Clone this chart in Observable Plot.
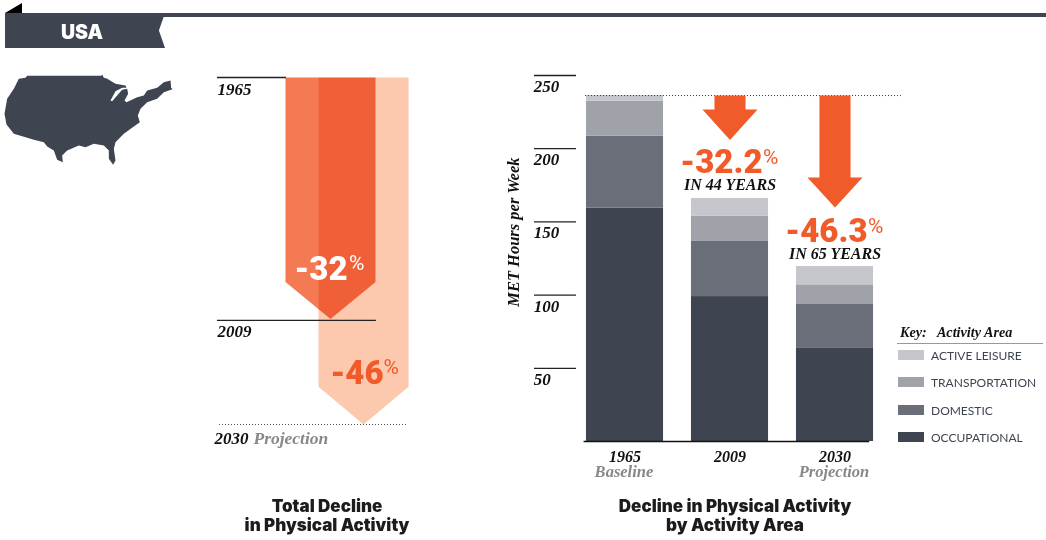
<!DOCTYPE html>
<html>
<head>
<meta charset="utf-8">
<script src="https://cdn.jsdelivr.net/npm/d3@7"></script>
<script src="https://cdn.jsdelivr.net/npm/@observablehq/plot@0.6"></script>
<style>
html,body{margin:0;padding:0;background:#fff;overflow:hidden}
#page{position:relative;width:1046px;height:540px;overflow:hidden}
#page svg{position:absolute;overflow:visible;background:transparent}
.abs{position:absolute}
.title{font-family:Inter,sans-serif;font-weight:900;font-size:17px;line-height:19px;color:#1c1c1c;text-align:center;white-space:nowrap}
.serif{font-family:"Liberation Serif",serif;font-weight:bold;font-style:italic;color:#111;white-space:nowrap}
.key{font-family:Lato,sans-serif;font-size:12px;color:#3f4550;white-space:nowrap}
</style>
</head>
<body>
<div id="page"></div>
<script>
// ---- stacked bar data (MET hours per week) ----
const years = ["1965", "2009", "2030"];
const subLabels = ["Baseline", "", "Projection"];
const areas = ["OCCUPATIONAL", "DOMESTIC", "TRANSPORTATION", "ACTIVE LEISURE"];
const areaColors = ["#3f4550", "#6a6e78", "#9fa2a9", "#c6c7cc"];
const occupational = [159.5, 99, 64];
const domestic = [49, 38, 30];
const transportation = [24, 17, 13];
const activeLeisure = [3.8, 12, 12.5];
const yTicks = [250, 200, 150, 100, 50];
const baselineTotal = 236.3;

// ---- bar chart annotations ----
const changes = ["-32.2", "-46.3"];
const spans = ["IN 44 YEARS", "IN 65 YEARS"];
const changeSlots = [1, 2];
const arrowShoulder = [226.8, 180.3];
const arrowTip = [206, 159.8];
const changeLabelY = [183.5, 136.6];

// ---- total decline data (percent) ----
const declines = [32, 46];
const declineLabels = ["-32", "-46"];
const declineYears = ["1965", "2009", "2030"];
const declineRuleAt = [0, 32.2, 46];

// ---- USA silhouette outline (map units) ----
const mapX = [80,302,305,310,340,320,345,375,378,365,345,330,335,350,365,380,383,372,378,410,430,440,470,490,510,512,516,490,470,440,420,412,418,400,370,345,340,345,338,325,325,310,280,255,235,200,185,187,170,160,140,130,100,80,40,18,12,20,40,55,75,80];
const mapY = [226,226,222,232,240,235,250,255,262,262,272,300,302,285,268,265,280,300,305,290,285,270,262,245,240,262,266,275,295,305,325,345,365,378,400,425,445,480,493,475,450,435,430,440,435,450,465,485,478,450,438,425,418,412,400,372,340,295,265,235,232,226];

const page = document.getElementById("page");
const place = (el, left, top) => { el.style.left = left + "px"; el.style.top = top + "px"; page.appendChild(el); return el; };
const div = (cls, html, left, top, extra = "") => {
  const d = document.createElement("div");
  d.className = "abs " + cls; d.innerHTML = html; d.style.cssText = extra;
  return place(d, left, top);
};

// ---- header banner ----
div("", "", 5, 3, "width:17px;height:10px;background:#000;clip-path:polygon(0 100%,100% 0,100% 100%)");
div("", "", 160, 13, "width:886px;height:4px;background:#3f4550");
div("", "", 5, 13, "width:160px;height:35px;background:#3f4550;clip-path:polygon(0 0,100% 0,96.2% 50%,100% 100%,0 100%)");
div("", "USA", 5, 22, "width:154px;text-align:center;font:900 19.5px Inter,sans-serif;color:#fff;line-height:20px");

// ---- map ----
const mapPts = mapX.map((x, i) => ({x, y: mapY[i]}));
place(Plot.plot({
  width: 200, height: 170, margin: 0,
  x: {axis: null, domain: [0, 600], range: [0, 200]},
  y: {axis: null, domain: [0, 510], range: [0, 170]},
  marks: [Plot.line(mapPts, {x: "x", y: "y", fill: "#3f4550", stroke: "none"})]
}), 0, 0);

// ---- left panel: total decline ----
const arrowPoly = (center, value, halfWidth, headPct) => [
  [center - halfWidth, 0], [center + halfWidth, 0], [center + halfWidth, value - headPct],
  [center, value], [center - halfWidth, value - headPct], [center - halfWidth, 0]
].map(([x, y]) => ({x, y}));
const serifL = {fontFamily: "Liberation Serif", fontWeight: "bold", fontStyle: "italic", lineAnchor: "bottom"};
const heavy = {fontFamily: "Roboto", fontWeight: 900, lineAnchor: "bottom"};
const pctStyle = {fontFamily: "Roboto", fontWeight: 400, lineAnchor: "bottom"};
const colCenters = [0, 0.367];
const left = Plot.plot({
  width: 210, height: 380, margin: 0,
  x: {axis: null, domain: [-4 / 3, 1], range: [0, 210]},
  y: {axis: null, domain: [0, 46], range: [7, 354]},
  marks: [
    Plot.line(arrowPoly(colCenters[1], declines[1], 0.5, 5), {x: "x", y: "y", fill: "#fcc8ae", stroke: "none"}),
    Plot.line(arrowPoly(colCenters[0], declines[0], 0.5, 4.9), {x: "x", y: "y", fill: "#f37a52", stroke: "none", mixBlendMode: "multiply"}),
    Plot.ruleY([declineRuleAt[0]], {x1: -1.256, x2: -0.489, stroke: "#222", strokeWidth: 1.3}),
    Plot.ruleY([declineRuleAt[1]], {x1: -1.256, x2: 0.51, stroke: "#222", strokeWidth: 1.3}),
    Plot.ruleY([declineRuleAt[2]], {x1: -1.233, x2: 0.867, stroke: "#555", strokeDasharray: "1,2"}),
    Plot.text([declineYears[0]], {...serifL, text: d => d, x: -1.256, y: declineRuleAt[0], dy: 17, textAnchor: "start", fontSize: 17, fill: "#111"}),
    Plot.text([declineYears[1]], {...serifL, text: d => d, x: -1.256, y: declineRuleAt[1], dy: 17, textAnchor: "start", fontSize: 17, fill: "#111"}),
    Plot.text([declineYears[2]], {...serifL, text: d => d, x: -1.289, y: declineRuleAt[2], dy: 19, textAnchor: "start", fontSize: 17, fill: "#111"}),
    Plot.text(["Projection"], {...serifL, text: d => d, x: -0.856, y: declineRuleAt[2], dy: 19, textAnchor: "start", fontSize: 17.5, fill: "#888"}),
    Plot.text([declineLabels[0]], {...heavy, text: d => d, x: 0.19, y: declines[0], dy: -39, textAnchor: "end", fontSize: 33, fill: "#fff"}),
    Plot.text(["%"], {...pctStyle, text: d => d, x: 0.205, y: declines[0], dy: -49, textAnchor: "start", fontSize: 21, fill: "#fff"}),
    Plot.text([declineLabels[1]], {...heavy, text: d => d, x: 0.59, y: declines[1], dy: -41, textAnchor: "end", fontSize: 33, fill: "#f15a29"}),
    Plot.text(["%"], {...pctStyle, text: d => d, x: 0.59, y: declines[1], dy: -51, textAnchor: "start", fontSize: 21, fill: "#f15a29"})
  ]
});
place(left, 210, 70);

// ---- right panel: stacked bars ----
const series = [occupational, domestic, transportation, activeLeisure];
const rows = years.flatMap((year, s) => {
  let base = 0;
  return areas.map((area, a) => {
    const row = {year, slot: s, area, y1: base, y2: base + series[a][s]};
    base = row.y2;
    return row;
  });
});
const arrow2 = i => {
  const c = changeSlots[i], top = baselineTotal, sh = arrowShoulder[i], tip = arrowTip[i];
  return [[c-.148,top],[c+.148,top],[c+.148,sh],[c+.262,sh],[c,tip],[c-.262,sh],[c-.148,sh],[c-.148,top]].map(([x,y]) => ({x,y}));
};
const serifR = {...serifL, fontSize: 17};
const right = Plot.plot({
  width: 410, height: 420, margin: 0,
  x: {axis: null, domain: [-1.1857, 2.719], range: [0, 410]},
  y: {axis: null, domain: [0, 250], range: [381, 15]},
  color: {domain: areas, range: areaColors},
  marks: [
    Plot.rect(rows, {x1: d => d.slot - 0.367, x2: d => d.slot + 0.367, y1: "y1", y2: "y2", fill: "area"}),
    Plot.ruleY([0], {x1: -0.39, x2: 2.33, stroke: "#111", strokeWidth: 1.5}),
    Plot.ruleY(yTicks, {x1: -0.862, x2: -0.462, stroke: "#222", strokeWidth: 1.3}),
    Plot.ruleY([baselineTotal], {x1: -0.376, x2: 2.633, stroke: "#333", strokeDasharray: "1,2"}),
    Plot.text(yTicks, {...serifR, text: d => String(d), x: -0.87, y: d => d, dy: 16.5, textAnchor: "start", fill: "#111"}),
    Plot.text(["MET Hours per Week"], {...serifR, fontSize: 16.5, text: d => d, x: -1.06, y: 143, rotate: -90, textAnchor: "middle", lineAnchor: "middle", fill: "#111"}),
    Plot.text(years, {...serifR, fontSize: 16, text: d => d, x: (d, i) => i, y: 0, dy: 20.5, textAnchor: "middle", fill: "#111"}),
    Plot.text(subLabels, {...serifR, fontSize: 16.5, text: d => d, x: (d, i) => i - 0.01, y: 0, dy: 35.5, textAnchor: "middle", fill: "#888"}),
    ...changes.map((_, i) => Plot.line(arrow2(i), {x: "x", y: "y", fill: "#f15a29", stroke: "none"})),
    Plot.text(changes, {...heavy, text: d => d, x: (d, i) => changeSlots[i] + 0.31, y: (d, i) => changeLabelY[i], textAnchor: "end", fontSize: 33, fill: "#f15a29"}),
    Plot.text(changes, {...pctStyle, text: () => "%", x: (d, i) => changeSlots[i] + 0.315, y: (d, i) => changeLabelY[i], dy: -9, textAnchor: "start", fontSize: 21, fill: "#f15a29"}),
    Plot.text(spans, {...serifR, fontSize: 16, text: d => d, x: (d, i) => changeSlots[i], y: (d, i) => changeLabelY[i], dy: 17.5, textAnchor: "middle", fill: "#111"})
  ]
});
place(right, 500, 60);

// ---- legend ----
div("serif", "Key:&nbsp;&nbsp; Activity Area", 900, 324, "font-size:14.2px;line-height:16px");
div("", "", 897, 343, "width:146px;height:1px;background:#999");
[...areas].reverse().forEach((a, i) => {
  const c = [...areaColors].reverse()[i], top = [350, 377, 405, 432][i];
  div("", "", 898, top, `width:26px;height:10px;background:${c}`);
  div("key", a, 931, top - 2, "line-height:16px");
});

// ---- titles ----
div("title", "Total Decline<br>in Physical Activity", 227, 497, "width:200px");
div("title", "Decline in Physical Activity<br>by Activity Area", 585, 497, "width:300px");
</script>
</body>
</html>
